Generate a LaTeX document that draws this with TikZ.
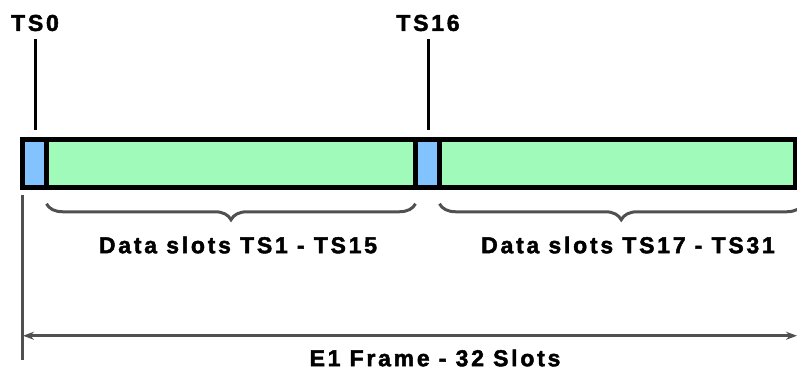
\documentclass[tikz,border=0pt]{standalone}
\usepackage{fontspec}
\setmainfont{Liberation Sans}[LetterSpace=12, BoldFeatures={FakeBold=2}]
\usetikzlibrary{positioning, calc, decorations.pathreplacing, arrows.meta}
\definecolor{slotgreen}{RGB}{160,250,186}
\definecolor{slotblue}{RGB}{130,195,255}
\definecolor{dimgray}{RGB}{80,80,80}

\begin{document}
\begin{tikzpicture}[x=1pt, y=-1pt,
    slot/.style={draw, line width=5pt, outer sep=0pt, inner sep=0pt, minimum height=48.5pt},
    tick/.style={line width=3pt, shorten <=8pt, shorten >=9pt},
    dimline/.style={draw=dimgray, line width=3pt},
    slotbrace/.style={dimline, decorate, decoration={brace, mirror, amplitude=16pt}},
    lbl/.style={font=\bfseries\fontsize{23}{25}\selectfont, inner sep=0pt}]
    \clip (0,0) rectangle (797,372);

    % the frame: two signalling slots, two runs of data slots
    \node[slot, fill=slotblue, minimum width=24.5pt] (ts0) at (34.25,163.5) {};
    \node[slot, fill=slotgreen, minimum width=369pt, right=0pt of ts0] (data1) {};
    \node[slot, fill=slotblue, minimum width=24pt, right=0pt of data1] (ts16) {};
    \node[slot, fill=slotgreen, minimum width=355.5pt, right=0pt of ts16] (data2) {};

    \node[lbl] (lts0) at (35,23) {TS0};
    \node[lbl] (lts16) at (428,23) {TS16};
    \draw[tick] (lts0.south) -- (lts0.south |- ts0.north);
    \draw[tick] (lts16.south) -- (lts16.south |- ts16.north);

    \draw[slotbrace] ([yshift=-16pt]data1.south west) -- ([yshift=-16pt]data1.south east);
    \draw[slotbrace] ([yshift=-16pt]data2.south west) -- ([xshift=8pt, yshift=-16pt]data2.south east);
    \node[lbl] (ldata1) at (238,245) {Data slots TS1 - TS15};
    \node[lbl] (ldata2) at (628,245) {Data slots TS17 - TS31};

    \coordinate (ftop) at ([yshift=-7pt]ts0.south west);
    \coordinate (fbot) at ([yshift=-172pt]ts0.south west);
    \coordinate (fl) at ([xshift=1pt, yshift=-148pt]ts0.south west);
    \coordinate (fr) at ($(fl -| data2.east)+(2,0)$);
    \draw[dimline] (ftop) -- (fbot);
    \draw[dimline, {Stealth[length=11pt, width=8pt]}-{Stealth[length=11pt, width=8pt]}] (fl) -- (fr);
    \node[lbl] (lframe) at (435,358) {E1 Frame - 32 Slots};
\end{tikzpicture}
\end{document}
